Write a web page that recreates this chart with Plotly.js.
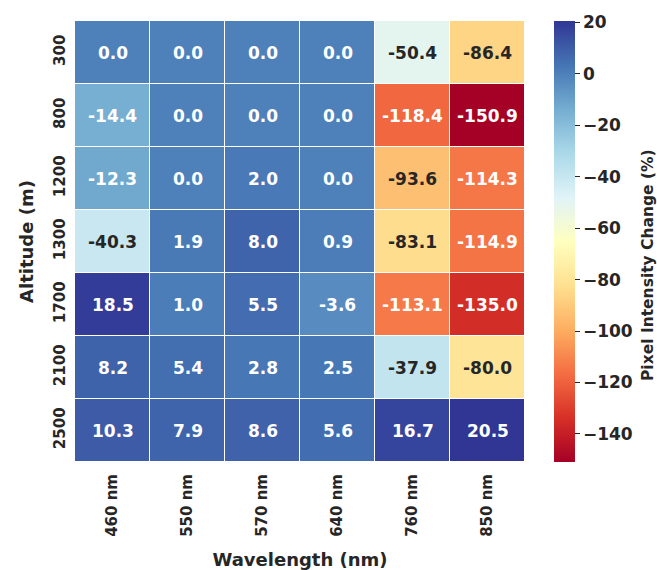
<!DOCTYPE html>
<html>
<head>
<meta charset="utf-8">
<script src="https://cdn.plot.ly/plotly-3.0.1.min.js"></script>
<style>html,body{margin:0;padding:0;background:#fff}#chart{width:657px;height:570px}</style>
</head>
<body>
<div id="chart"></div>
<script>
const wavelengths = ["460 nm", "550 nm", "570 nm", "640 nm", "760 nm", "850 nm"];
const altitudes = ["300", "800", "1200", "1300", "1700", "2100", "2500"];
const changes = [
  [0.0, 0.0, 0.0, 0.0, -50.4, -86.4],
  [-14.4, 0.0, 0.0, 0.0, -118.4, -150.9],
  [-12.3, 0.0, 2.0, 0.0, -93.6, -114.3],
  [-40.3, 1.9, 8.0, 0.9, -83.1, -114.9],
  [18.5, 1.0, 5.5, -3.6, -113.1, -135.0],
  [8.2, 5.4, 2.8, 2.5, -37.9, -80.0],
  [10.3, 7.9, 8.6, 5.6, 16.7, 20.5]
];
const cbTicks = [20, 0, -20, -40, -60, -80, -100, -120, -140];
const cbTitle = "Pixel Intensity Change (%)";

const rdylbu = [
  [0.0, "#a50026"], [0.1, "#d73027"], [0.2, "#f46d43"], [0.3, "#fdae61"],
  [0.4, "#fee090"], [0.5, "#ffffbf"], [0.6, "#e0f3f8"], [0.7, "#abd9e9"],
  [0.8, "#74add1"], [0.9, "#4575b4"], [1.0, "#313695"]
];

const flat = changes.flat();
const zmin = Math.min(...flat), zmax = Math.max(...flat);

const annotations = [];
altitudes.forEach((alt, i) => {
  wavelengths.forEach((wl, j) => {
    const v = changes[i][j];
    const dark = v > -100 && v < -30;
    annotations.push({
      x: j, y: i, xref: "x", yref: "y",
      text: v.toFixed(1), showarrow: false,
      font: {family: "DejaVu Sans", size: 17, weight: "bold", color: dark ? "#262626" : "#ffffff"}
    });
  });
});
annotations.push({
  text: cbTitle, xref: "paper", yref: "paper",
  x: (648 - 75) / 450, y: 1 - (265 - 21) / 441,
  xanchor: "center", yanchor: "middle", textangle: -90, showarrow: false,
  font: {family: "DejaVu Sans", size: 15.5, weight: "bold", color: "#262626"}
});

const trace = {
  type: "heatmap",
  x: wavelengths, y: altitudes, z: changes,
  colorscale: rdylbu, zmin: zmin, zmax: zmax,
  xgap: 1, ygap: 1,
  hoverinfo: "skip",
  colorbar: {
    x: 554 / 657, xanchor: "left", xref: "container",
    y: 0.5, yanchor: "middle", yref: "paper", len: 1, lenmode: "fraction",
    thickness: 21, thicknessmode: "pixels",
    outlinewidth: 0, xpad: 0, ypad: 0,
    tickvals: cbTicks,
    ticks: "outside", ticklen: 5, tickwidth: 1, tickcolor: "#262626",
    tickfont: {family: "DejaVu Sans", size: 17, weight: "bold", color: "#262626"}
  }
};

const layout = {
  width: 657, height: 570,
  margin: {l: 75, r: 132, t: 21, b: 108, pad: 0},
  paper_bgcolor: "#ffffff", plot_bgcolor: "#ffffff",
  font: {family: "DejaVu Sans", color: "#262626"},
  xaxis: {
    type: "category", range: [-0.5, wavelengths.length - 0.5], autorange: false,
    tickangle: -90, ticks: "", showgrid: false, zeroline: false,
    showline: false, ticklabelstandoff: 8,
    tickfont: {family: "DejaVu Sans", size: 15, weight: "bold", color: "#262626"},
    title: {text: "Wavelength (nm)", standoff: 28,
      font: {family: "DejaVu Sans", size: 18, weight: "bold", color: "#262626"}}
  },
  yaxis: {
    type: "category", range: [altitudes.length - 0.5, -0.5], autorange: false,
    tickangle: -90, ticks: "", showgrid: false,
    zeroline: false, showline: false, ticklabelstandoff: 6,
    tickfont: {family: "DejaVu Sans", size: 15, weight: "bold", color: "#262626"},
    title: {text: "Altitude (m)", standoff: 12,
      font: {family: "DejaVu Sans", size: 18, weight: "bold", color: "#262626"}}
  },
  annotations: annotations
};

Plotly.newPlot("chart", [trace], layout, {displayModeBar: false, staticPlot: true});
</script>
</body>
</html>
